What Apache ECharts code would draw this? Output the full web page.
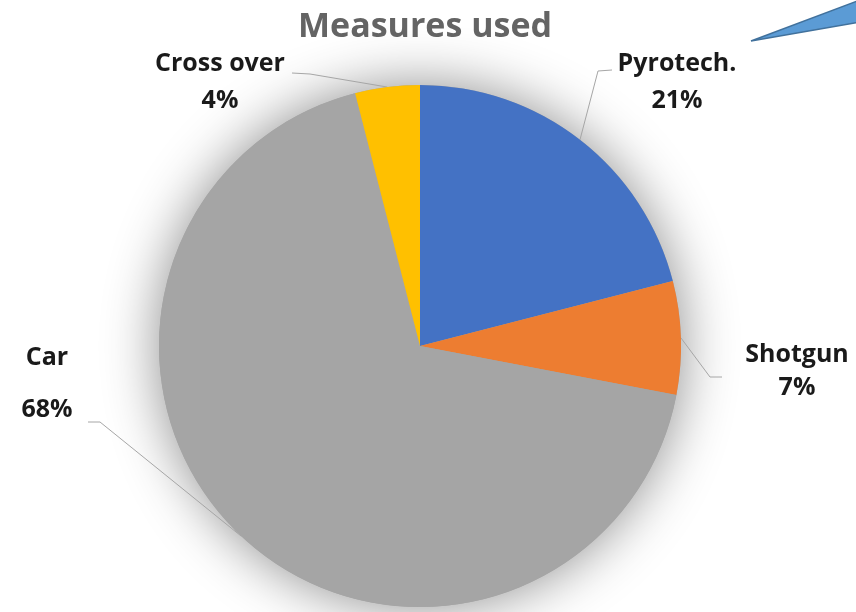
<!DOCTYPE html>
<html>
<head>
<meta charset="utf-8">
<title>Measures used</title>
<script src="https://cdn.jsdelivr.net/npm/echarts@6/dist/echarts.min.js"></script>
<style>
  html, body { margin: 0; padding: 0; background: #ffffff; }
  #chart { width: 856px; height: 612px; }
</style>
</head>
<body>
<div id="chart"></div>
<script>
// Share of each measure, in percent (clockwise from 12 o'clock)
const categories = ['Pyrotech.', 'Shotgun', 'Car', 'Cross over'];
const shares = [21, 7, 68, 4];
const sliceColors = ['#4472C4', '#ED7D31', '#A5A5A5', '#FFC000'];
const titleText = 'Measures used';

// Label placement: anchor of the two-line label, line spacing,
// and the elbow / end of the leader line relative to that anchor.
const labelSpots = {
  'Pyrotech.':  { at: [677, 82],  lh: 37, bend: [-79, -11], end: [-65, -12] },
  'Shotgun':    { at: [797, 371], lh: 33, bend: [-87, 6],   end: [-75, 6] },
  'Car':        { at: [47, 384],  lh: 52, bend: [53, 38],   end: [41, 38] },
  'Cross over': { at: [220, 82],  lh: 37, bend: [90, -8],   end: [72, -9] }
};

const FONT = '"Open Sans", Lato, "Noto Sans", sans-serif';
const pieCenter = [420, 346];
const pieRadius = 261;

const chart = echarts.init(document.getElementById('chart'), null, { renderer: 'canvas' });

const option = {
  backgroundColor: '#ffffff',
  animation: false,
  title: {
    text: titleText,
    left: 420,
    top: 5,
    textAlign: 'center',
    textStyle: { fontFamily: FONT, fontSize: 34, fontWeight: 'bold', color: '#646464' }
  },
  graphic: [{
    // callout arrow at the top-right corner
    type: 'polygon',
    shape: { points: [[751, 41], [860, 0], [860, 22]] },
    style: { fill: '#5B9BD5', stroke: '#41719C', lineWidth: 1.5 },
    z: 10
  }],
  series: [
    {
      // soft glow under the pie
      type: 'pie',
      silent: true,
      center: pieCenter,
      radius: pieRadius,
      z: 1,
      label: { show: false },
      labelLine: { show: false },
      itemStyle: {
        color: '#A5A5A5',
        shadowBlur: 55,
        shadowColor: 'rgba(0,0,0,0.45)'
      },
      data: [{ value: 1, name: '' }]
    },
    {
      type: 'pie',
      center: pieCenter,
      radius: pieRadius,
      startAngle: 90,
      clockwise: true,
      z: 2,
      avoidLabelOverlap: false,
      data: categories.map((name, i) => ({
        name: name,
        value: shares[i],
        itemStyle: { color: sliceColors[i] },
        label: { lineHeight: labelSpots[name].lh }
      })),
      itemStyle: { borderWidth: 0 },
      label: {
        show: true,
        position: 'outside',
        formatter: '{b}\n{c}%',
        fontFamily: FONT,
        fontSize: 25,
        fontWeight: 'bold',
        color: '#1a1a1a',
        align: 'center'
      },
      labelLine: {
        show: true,
        length: 20,
        length2: 20,
        lineStyle: { color: '#A6A6A6', width: 1 }
      },
      labelLayout: function (params) {
        const name = categories[params.dataIndex];
        const spot = labelSpots[name];
        const ax = spot.at[0], ay = spot.at[1];
        const pts = params.labelLinePoints;
        const start = pts ? pts[0] : [ax, ay];
        return {
          x: ax,
          y: ay,
          align: 'center',
          verticalAlign: 'middle',
          labelLinePoints: [
            start,
            [ax + spot.bend[0], ay + spot.bend[1]],
            [ax + spot.end[0], ay + spot.end[1]]
          ]
        };
      }
    }
  ]
};

chart.setOption(option);
</script>
</body>
</html>
